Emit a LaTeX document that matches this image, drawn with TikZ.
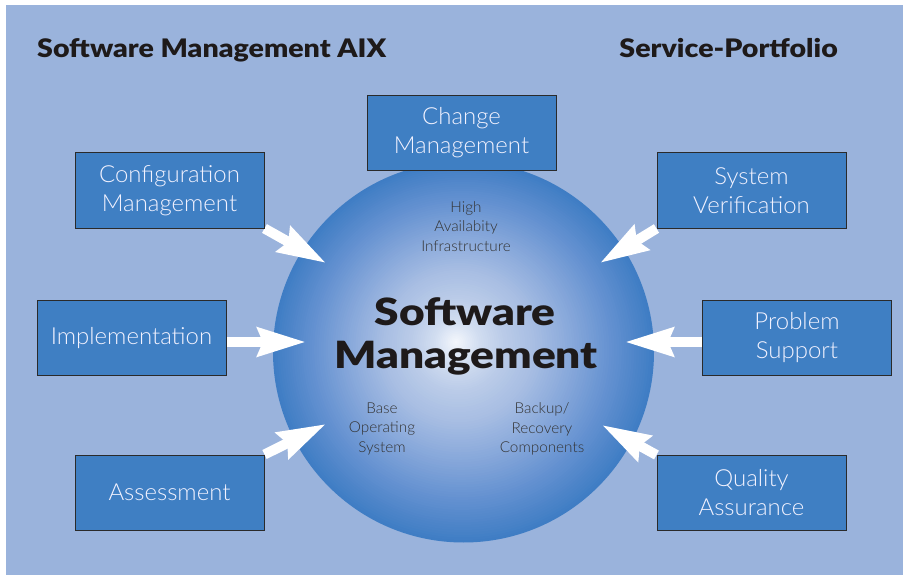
\documentclass[tikz,border=0pt]{standalone}
\usepackage{fontspec}
\usetikzlibrary{arrows.meta,calc}
\IfFontExistsTF{Lato Light}{\newfontfamily\lightfont[FakeStretch=1.02]{Lato Light}}{\newfontfamily\lightfont{Liberation Sans}}
\IfFontExistsTF{Lato Black}{\newfontfamily\heavyfont[FakeStretch=1.12]{Lato Black}\newfontfamily\corefont[FakeStretch=1.18]{Lato Black}}{\newfontfamily\heavyfont[FakeBold=2]{Liberation Sans Bold}\newfontfamily\corefont[FakeBold=2]{Liberation Sans Bold}}
\definecolor{bgblue}{HTML}{9AB3DC}
\definecolor{boxblue}{HTML}{3F7FC3}
\definecolor{boxedge}{HTML}{2A2A2A}
\definecolor{txtgray}{HTML}{333333}
\definecolor{titleblack}{HTML}{1E1A1A}
\definecolor{sA}{HTML}{3F7DC4}
\definecolor{sB}{HTML}{6290D0}
\definecolor{sC}{HTML}{86A7DA}
\definecolor{sD}{HTML}{A8BEE3}
\definecolor{sE}{HTML}{BACBE8}
\definecolor{sF}{HTML}{D2DEF1}
\definecolor{sG}{HTML}{F3F6FC}
\newcommand\spheresegment[5]{%
  \foreach \j in {0,...,#5}{%
    \pgfmathsetmacro\dd{#1-(#1-#2)*\j/#5}%
    \pgfmathsetmacro\pp{100*\j/#5}%
    \fill[#4!\pp!#3] ($(sphc)!{1-\dd}!(sphh)$) circle[radius=\dd*190.5];
  }}
\pgfdeclarelayer{bg}
\pgfdeclarelayer{arrlayer}
\pgfsetlayers{bg,arrlayer,main}
\tikzset{
  svcbox/.style={draw=boxedge, line width=1pt, fill=boxblue, minimum width=189pt, minimum height=75pt,
    inner sep=0pt, align=center, text=white!95!blue, font=\lightfont\fontsize{23.5}{29}\selectfont},
  titletext/.style={inner sep=0pt, text=titleblack, font=\heavyfont\fontsize{25.5}{30}\selectfont},
  coretext/.style={inner sep=0pt, text=titleblack, font=\corefont\fontsize{37.5}{43}\selectfont},
  smalltext/.style={inner sep=0pt, align=center, text=txtgray, font=\lightfont\fontsize{15}{19.3}\selectfont},
  fatarrow/.style={draw=white, line width=10pt, -{Stealth[length=48pt,width=28pt,inset=5pt]}, fill=white},
}
\begin{document}
\begin{tikzpicture}[x=1pt, y=-1pt]
\useasboundingbox (0,0) rectangle (903,575);
\coordinate (sphc) at (463.5,352);
\coordinate (sphh) at (456,342);
\begin{pgfonlayer}{bg}
  \fill[bgblue] (6,5) rectangle (903,575);
  \spheresegment{1.00}{0.80}{sA}{sB}{16}
  \spheresegment{0.80}{0.60}{sB}{sC}{16}
  \spheresegment{0.60}{0.40}{sC}{sD}{16}
  \spheresegment{0.40}{0.25}{sD}{sE}{12}
  \spheresegment{0.25}{0.12}{sE}{sF}{12}
  \spheresegment{0.12}{0.01}{sF}{sG}{12}
  \node[circle, minimum size=381pt, inner sep=0pt] (core) at (sphc) {};
\end{pgfonlayer}

\node[titletext, anchor=base west] (ttl) at (37,58) {Software Management AIX};
\node[titletext, anchor=base east] (ttr) at (838,58) {Service-Portfolio};

\node[svcbox] (chg) at (461.5,133) {Change\\Management};
\node[svcbox] (cfg) at (169.5,190.5) {Configuration\\Management};
\node[svcbox] (ver) at (751.5,190.5) {System\\Verification};
\node[svcbox] (imp) at (131.5,338) {Implementation};
\node[svcbox] (prb) at (797,338) {Problem\\Support};
\node[svcbox] (asm) at (169.5,492.5) {Assessment};
\node[svcbox] (qa) at (751.5,493) {Quality\\Assurance};

\node[coretext, anchor=base] (sm1) at (465,325) {Software};
\node[coretext, anchor=base] (sm2) at (466,368) {Management};

\node[smalltext] (hai) at (466,226.5) {High\\Availabity\\Infrastructure};
\node[smalltext] (bos) at (382,429) {Base\\Operating\\System};
\node[smalltext] (brc) at (542,429) {Backup/\\Recovery\\Components};

\coordinate (tcfg) at (326,263);
\coordinate (tver) at (600,263);
\coordinate (timp) at (306,342);
\coordinate (tprb) at (625,342);
\coordinate (tasm) at (326,424);
\coordinate (tqa) at (602,425);

\begin{pgfonlayer}{arrlayer}
  \draw[fatarrow] (cfg.south east) -- (tcfg);
  \draw[fatarrow] (ver.south west) -- (tver);
  \draw[fatarrow] (imp.east |- timp) -- (timp);
  \draw[fatarrow] (prb.west |- tprb) -- (tprb);
  \draw[fatarrow] (asm.north east) -- (tasm);
  \draw[fatarrow] (qa.north west) -- (tqa);
\end{pgfonlayer}
\end{tikzpicture}
\end{document}
